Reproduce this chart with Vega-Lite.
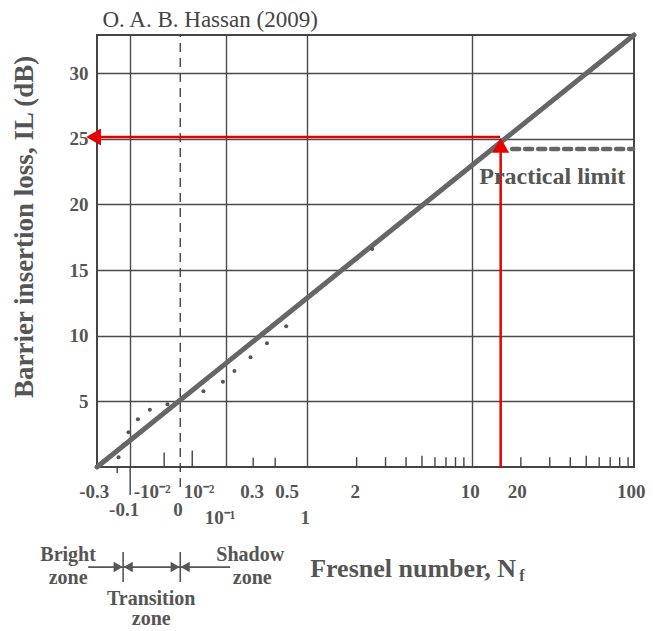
{
  "$schema": "https://vega.github.io/schema/vega-lite/v6.json",
  "width": 537,
  "height": 432,
  "autosize": {"type": "none"},
  "padding": {"left": 97, "top": 35, "right": 19, "bottom": 164},
  "background": "white",
  "config": {
    "view": {"stroke": "#444", "strokeWidth": 2},
    "font": "Liberation Serif"
  },
  "datasets": {
    "fit": [{"u": -1.28, "il": 0}, {"u": 1.99, "il": 32.9}],
    "measured": [
      {"u": -1.149, "il": 0.74}, {"u": -1.088, "il": 2.64}, {"u": -1.031, "il": 3.63},
      {"u": -0.958, "il": 4.36}, {"u": -0.851, "il": 4.78}, {"u": -0.632, "il": 5.77},
      {"u": -0.513, "il": 6.5}, {"u": -0.443, "il": 7.31}, {"u": -0.345, "il": 8.35},
      {"u": -0.245, "il": 9.42}, {"u": -0.128, "il": 10.72}, {"u": 0.396, "il": 16.6}
    ],
    "minor": [
      {"u": -0.871, "a": 0, "b": 1.1}, {"u": -0.7, "a": 0, "b": 1.25},
      {"u": -0.329, "a": 0, "b": 0.7}, {"u": -0.195, "a": 0, "b": 0.7},
      {"u": 0.301, "a": 0, "b": 0.75}, {"u": 0.477, "a": 0, "b": 0.75}, {"u": 0.602, "a": 0, "b": 0.75},
      {"u": 0.699, "a": 0, "b": 0.85}, {"u": 0.778, "a": 0, "b": 0.75}, {"u": 0.845, "a": 0, "b": 0.75},
      {"u": 0.903, "a": 0, "b": 0.75}, {"u": 0.954, "a": 0, "b": 0.75},
      {"u": 1.301, "a": 0, "b": 0.75}, {"u": 1.477, "a": 0, "b": 0.75}, {"u": 1.602, "a": 0, "b": 0.75},
      {"u": 1.699, "a": 0, "b": 0.85}, {"u": 1.778, "a": 0, "b": 0.75}, {"u": 1.845, "a": 0, "b": 0.75},
      {"u": 1.903, "a": 0, "b": 0.75}, {"u": 1.954, "a": 0, "b": 0.75},
      {"u": -1.157, "a": 0, "b": -0.45},
      {"u": -1.078, "a": 0, "b": -2.13}
    ],
    "xlabels": [
      {"u": -1.297, "il": -1.9, "t": "-0.3"},
      {"u": -0.944, "il": -1.9, "t": "-10⁻²"},
      {"u": -0.658, "il": -1.9, "t": "10⁻²"},
      {"u": -0.335, "il": -1.9, "t": "0.3"},
      {"u": -0.122, "il": -1.9, "t": "0.5"},
      {"u": 0.292, "il": -1.9, "t": "2"},
      {"u": 0.993, "il": -1.9, "t": "10"},
      {"u": 1.279, "il": -1.9, "t": "20"},
      {"u": 1.973, "il": -1.9, "t": "100"},
      {"u": -1.115, "il": -3.27, "t": "-0.1"},
      {"u": -0.786, "il": -3.27, "t": "0"},
      {"u": -0.53, "il": -3.88, "t": "10⁻¹"},
      {"u": -0.012, "il": -3.88, "t": "1"}
    ],
    "zones": [
      {"u": -1.456, "il": -6.7, "t": "Bright"},
      {"u": -1.456, "il": -8.45, "t": "zone"},
      {"u": -0.347, "il": -6.7, "t": "Shadow"},
      {"u": -0.335, "il": -8.45, "t": "zone"},
      {"u": -0.95, "il": -10.05, "t": "Transition"},
      {"u": -0.95, "il": -11.6, "t": "zone"}
    ],
    "zoneBars": [{"u": -1.121, "a": -6.47, "b": -8.76}, {"u": -0.773, "a": -6.47, "b": -8.76}],
    "zoneLine": [{"u": -1.334, "u2": -0.469, "il": -7.62}],
    "zoneHeads": [
      {"u": -1.151, "il": -7.62, "s": "triangle-right"},
      {"u": -1.09, "il": -7.62, "s": "triangle-left"},
      {"u": -0.804, "il": -7.62, "s": "triangle-right"},
      {"u": -0.743, "il": -7.62, "s": "triangle-left"}
    ],
    "redV": [{"u": 1.178, "a": 0, "b": 24.3}],
    "redH": [{"u": 1.175, "u2": -1.29, "il": 25.13}],
    "redHeads": [
      {"u": 1.178, "il": 24.49, "s": "triangle-up"},
      {"u": -1.301, "il": 25.13, "s": "triangle-left"}
    ],
    "limit": [{"u": 1.248, "u2": 1.985, "il": 24.22}]
  },
  "encoding": {
    "x": {"type": "quantitative", "scale": {"domain": [-1.28, 1.99], "nice": false, "zero": false}},
    "y": {"type": "quantitative", "scale": {"domain": [0, 32.9], "nice": false, "zero": false}}
  },
  "layer": [
    {
      "data": {"name": "fit"},
      "mark": {"type": "line", "stroke": "#666", "strokeWidth": 5, "strokeCap": "round"},
      "encoding": {
        "x": {"field": "u", "type": "quantitative",
          "axis": {"values": [-1.078, -0.493, 0, 1.005], "grid": true, "gridColor": "#4a4a4a", "gridWidth": 1.4, "gridOpacity": 1, "labels": false, "ticks": false, "domain": false, "title": null}},
        "y": {"field": "il", "type": "quantitative",
          "axis": {"values": [5, 10, 15, 20, 25, 30], "grid": true, "gridColor": "#4a4a4a", "gridWidth": 1.4, "gridOpacity": 1, "ticks": false, "domain": false, "title": null,
            "labelFont": "Liberation Serif", "labelFontWeight": "bold", "labelFontSize": 19, "labelColor": "#555", "labelPadding": 9}}
      }
    },
    {
      "data": {"values": [{"u": -0.773, "a": -1.52, "b": 32.9}]},
      "mark": {"type": "rule", "stroke": "#444", "strokeWidth": 1.4, "strokeDash": [9, 6]},
      "encoding": {"x": {"field": "u"}, "y": {"field": "a"}, "y2": {"field": "b"}}
    },
    {
      "data": {"name": "minor"},
      "mark": {"type": "rule", "stroke": "#444", "strokeWidth": 1.4},
      "encoding": {"x": {"field": "u"}, "y": {"field": "a"}, "y2": {"field": "b"}}
    },
    {
      "data": {"name": "measured"},
      "mark": {"type": "point", "filled": true, "fill": "#555", "size": 16, "opacity": 1},
      "encoding": {"x": {"field": "u"}, "y": {"field": "il"}}
    },
    {
      "data": {"name": "limit"},
      "mark": {"type": "rule", "stroke": "#666", "strokeWidth": 4.5, "strokeDash": [7, 6], "strokeCap": "round"},
      "encoding": {"x": {"field": "u"}, "x2": {"field": "u2"}, "y": {"field": "il"}}
    },
    {
      "data": {"name": "redV"},
      "mark": {"type": "rule", "stroke": "#e60000", "strokeWidth": 2.5},
      "encoding": {"x": {"field": "u"}, "y": {"field": "a"}, "y2": {"field": "b"}}
    },
    {
      "data": {"name": "redH"},
      "mark": {"type": "rule", "stroke": "#e60000", "strokeWidth": 2.5},
      "encoding": {"x": {"field": "u"}, "x2": {"field": "u2"}, "y": {"field": "il"}}
    },
    {
      "data": {"name": "redHeads"},
      "mark": {"type": "point", "filled": true, "fill": "#e60000", "size": 290, "opacity": 1},
      "encoding": {"x": {"field": "u"}, "y": {"field": "il"}, "shape": {"field": "s", "type": "nominal", "scale": null}}
    },
    {
      "data": {"values": [{"u": 1.492, "il": 22.09, "t": "Practical limit"}]},
      "mark": {"type": "text", "font": "Liberation Serif", "fontWeight": "bold", "fontSize": 24, "fill": "#555", "baseline": "middle"},
      "encoding": {"x": {"field": "u"}, "y": {"field": "il"}, "text": {"field": "t"}}
    },
    {
      "data": {"values": [{"u": -0.591, "il": 34.06, "t": "O. A. B. Hassan (2009)"}]},
      "mark": {"type": "text", "font": "Liberation Serif", "fontSize": 23, "fill": "#444", "baseline": "middle"},
      "encoding": {"x": {"field": "u"}, "y": {"field": "il"}, "text": {"field": "t"}}
    },
    {
      "data": {"values": [{"u": -1.717, "il": 18.28, "t": "Barrier insertion loss, IL (dB)"}]},
      "mark": {"type": "text", "font": "Liberation Serif", "fontWeight": "bold", "fontSize": 27, "fill": "#555", "angle": 270, "baseline": "middle"},
      "encoding": {"x": {"field": "u"}, "y": {"field": "il"}, "text": {"field": "t"}}
    },
    {
      "data": {"name": "xlabels"},
      "mark": {"type": "text", "font": "Liberation Serif", "fontWeight": "bold", "fontSize": 19, "fill": "#555", "baseline": "middle"},
      "encoding": {"x": {"field": "u"}, "y": {"field": "il"}, "text": {"field": "t"}}
    },
    {
      "data": {"name": "zones"},
      "mark": {"type": "text", "font": "Liberation Serif", "fontWeight": "bold", "fontSize": 20, "fill": "#555", "baseline": "middle"},
      "encoding": {"x": {"field": "u"}, "y": {"field": "il"}, "text": {"field": "t"}}
    },
    {
      "data": {"name": "zoneBars"},
      "mark": {"type": "rule", "stroke": "#555", "strokeWidth": 1.6},
      "encoding": {"x": {"field": "u"}, "y": {"field": "a"}, "y2": {"field": "b"}}
    },
    {
      "data": {"name": "zoneLine"},
      "mark": {"type": "rule", "stroke": "#555", "strokeWidth": 1.8},
      "encoding": {"x": {"field": "u"}, "x2": {"field": "u2"}, "y": {"field": "il"}}
    },
    {
      "data": {"name": "zoneHeads"},
      "mark": {"type": "point", "filled": true, "fill": "#555", "size": 110, "opacity": 1},
      "encoding": {"x": {"field": "u"}, "y": {"field": "il"}, "shape": {"field": "s", "type": "nominal", "scale": null}}
    },
    {
      "data": {"values": [{"u": 0.018, "il": -8.38, "t": "Fresnel number, N"}]},
      "mark": {"type": "text", "font": "Liberation Serif", "fontWeight": "bold", "fontSize": 26, "fill": "#555", "align": "left", "baseline": "alphabetic"},
      "encoding": {"x": {"field": "u"}, "y": {"field": "il"}, "text": {"field": "t"}}
    },
    {
      "data": {"values": [{"u": 1.291, "il": -8.68, "t": "f"}]},
      "mark": {"type": "text", "font": "Liberation Serif", "fontWeight": "bold", "fontSize": 16, "fill": "#555", "align": "left", "baseline": "alphabetic"},
      "encoding": {"x": {"field": "u"}, "y": {"field": "il"}, "text": {"field": "t"}}
    }
  ]
}
